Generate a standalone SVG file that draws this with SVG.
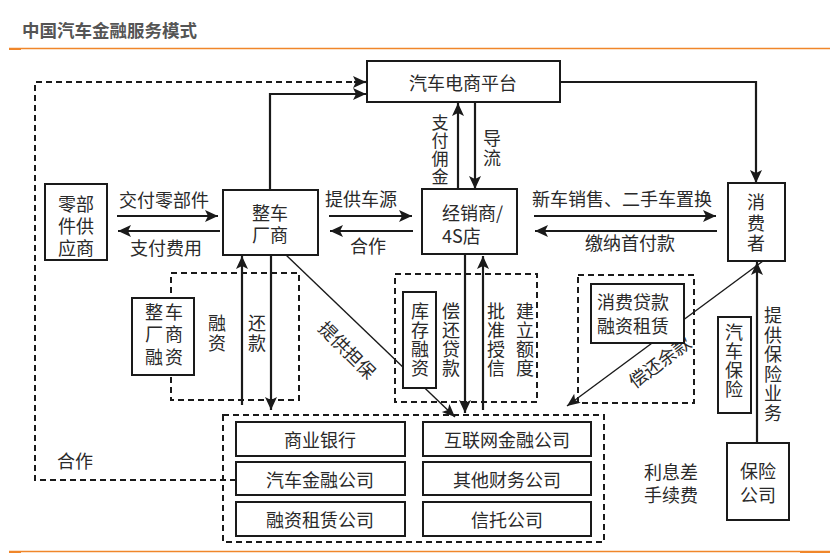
<svg xmlns="http://www.w3.org/2000/svg" width="830" height="560" viewBox="0 0 830 560">
<defs>
<style>
text{font-family:"Noto Sans CJK SC","Noto Sans",sans-serif;font-size:18px;fill:#2a2a2a;dominant-baseline:central;}
.c{text-anchor:middle;}
.v{writing-mode:vertical-rl;text-anchor:middle;}
.box{fill:#fff;stroke:#1a1a1a;stroke-width:2;}
.dbox{fill:none;stroke:#1a1a1a;stroke-width:2;stroke-dasharray:6 4;}
.ln{fill:none;stroke:#1a1a1a;stroke-width:2.2;}
.dl{fill:none;stroke:#1a1a1a;stroke-width:2;stroke-dasharray:6 4;}
.dg{fill:none;stroke:#1a1a1a;stroke-width:1.4;}
</style>
<marker id="ah" markerUnits="userSpaceOnUse" markerWidth="14" markerHeight="12" refX="13" refY="6" orient="auto"><path d="M0,0 L13,6 L0,12 L3,6 z" fill="#1a1a1a"/></marker>
<marker id="ahs" markerUnits="userSpaceOnUse" markerWidth="14" markerHeight="12" refX="13" refY="5.5" orient="auto"><path d="M0,0 L13,5.5 L0,11 L3,5.5 z" fill="#1a1a1a"/></marker>
</defs>
<rect width="830" height="560" fill="#fff"/>
<g id="header">
<text x="22" y="29" style="font-size:17.5px;font-weight:bold;fill:#555">中国汽车金融服务模式</text>
<line x1="9" y1="48.5" x2="830" y2="48.5" stroke="#f0862a" stroke-width="1.3"/>
<rect x="9" y="48" width="12" height="2" fill="#f0862a"/>
<line x1="9" y1="551.5" x2="830" y2="551.5" stroke="#f0862a" stroke-width="1.3"/>
<rect x="9" y="551" width="12" height="2" fill="#f0862a"/>
<rect x="800" y="551" width="30" height="2" fill="#f0862a"/>
</g>
<g id="groups">
<rect class="dbox" x="171" y="273" width="128" height="127"/>
<rect class="dbox" x="395" y="274" width="142" height="128"/>
<rect class="dbox" x="578" y="275" width="116" height="128"/>
<rect class="dbox" x="223" y="415" width="381" height="127"/>
</g>
<g id="connectors">
<path class="dl" d="M236 480 H35 V82 H354"/>
<path class="ln" d="M354 82 H366" marker-end="url(#ah)"/>
<path class="ln" d="M270 190 V94 H366" marker-end="url(#ah)"/>
<path class="ln" d="M560 82 H756 V183" marker-end="url(#ah)"/>
<path class="ln" d="M458 189 V103" marker-end="url(#ah)"/>
<path class="ln" d="M475 103 V189" marker-end="url(#ah)"/>
<path class="ln" d="M117 216 H218" marker-end="url(#ah)"/>
<path class="ln" d="M220 231 H118" marker-end="url(#ah)"/>
<path class="ln" d="M329 216 H412" marker-end="url(#ah)"/>
<path class="ln" d="M413 231 H330" marker-end="url(#ah)"/>
<path class="ln" d="M534 216 H716" marker-end="url(#ah)"/>
<path class="ln" d="M717 231 H535" marker-end="url(#ah)"/>
<path class="ln" d="M242 405 V256" marker-end="url(#ah)"/>
<path class="ln" d="M271 255 V410" marker-end="url(#ah)"/>
<path class="dg" d="M286 255 L455 417" marker-end="url(#ahs)"/>
<path class="ln" d="M465 254 V413" marker-end="url(#ah)"/>
<path class="ln" d="M483 410 V256" marker-end="url(#ah)"/>
<path class="dg" d="M763 261 L567 406" marker-end="url(#ahs)"/>
<path class="ln" d="M757 443 V262" marker-end="url(#ah)"/>
</g>
<g id="labels">
<text x="164" y="199" class="c">交付零部件</text>
<text x="166" y="247" class="c">支付费用</text>
<text x="361" y="198" class="c">提供车源</text>
<text x="368" y="245" class="c">合作</text>
<text x="622" y="198" class="c">新车销售、二手车置换</text>
<text x="630" y="242" class="c">缴纳首付款</text>
<text class="v" x="440" y="150" style="font-size:17px;letter-spacing:1px">支付佣金</text>
<text class="v" x="492" y="149" style="letter-spacing:2px">导流</text>
<text class="v" x="217" y="334" style="letter-spacing:2px">融资</text>
<text class="v" x="257" y="334" style="letter-spacing:2px">还款</text>
<text class="c" transform="translate(348,349) rotate(45)" x="0" y="0">提供担保</text>
<text class="v" x="451" y="340" style="letter-spacing:1px">偿还贷款</text>
<text class="v" x="496" y="340" style="letter-spacing:1px">批准授信</text>
<text class="v" x="525" y="340" style="letter-spacing:1px">建立额度</text>
<text class="c" transform="translate(659,361) rotate(-37)" x="0" y="0">偿还余款</text>
<text class="v" x="773" y="365" style="letter-spacing:1.6px">提供保险业务</text>
<text x="75" y="460" class="c">合作</text>
<text x="671" y="471" class="c">利息差</text>
<text x="671" y="494" class="c">手续费</text>
</g>
<g id="n-platform"><rect class="box" x="367" y="61" width="193" height="41"/><text x="463" y="82" class="c">汽车电商平台</text></g>
<g id="n-parts"><rect class="box" x="45" y="184" width="62" height="76"/><text x="76" y="203" class="c">零部</text><text x="76" y="225" class="c">件供</text><text x="76" y="247" class="c">应商</text></g>
<g id="n-oem"><rect class="box" x="223" y="190" width="95" height="65"/><text x="270" y="212" class="c">整车</text><text x="270" y="234" class="c">厂商</text></g>
<g id="n-dealer"><rect class="box" x="422" y="189" width="95" height="65"/><text x="442" y="212">经销商/</text><text x="442" y="235">4S店</text></g>
<g id="n-consumer"><rect class="box" x="728" y="183" width="57" height="78"/><text class="v" x="756" y="224" style="letter-spacing:2.5px">消费者</text></g>
<g id="n-oemfin"><rect class="box" x="132" y="298" width="62" height="77"/><text x="165" y="311" class="c" style="letter-spacing:2px">整车</text><text x="165" y="333" class="c" style="letter-spacing:2px">厂商</text><text x="165" y="356" class="c" style="letter-spacing:2px">融资</text></g>
<g id="n-stock"><rect class="box" x="403" y="292" width="33" height="96"/><text class="v" x="420" y="340" style="letter-spacing:1px">库存融资</text></g>
<g id="n-consfin"><rect class="box" x="591" y="284" width="93" height="59"/><text x="597" y="301">消费贷款</text><text x="597" y="325">融资租赁</text></g>
<g id="n-carins"><rect class="box" x="718" y="317" width="33" height="96"/><text class="v" x="734" y="361" style="letter-spacing:1px">汽车保险</text></g>
<g id="n-insurer"><rect class="box" x="727" y="443" width="62" height="77"/><text x="758" y="470" class="c">保险</text><text x="758" y="494" class="c">公司</text></g>
<g id="n-bank"><rect class="box" x="236" y="422" width="169" height="34"/><text x="320" y="439" class="c">商业银行</text></g>
<g id="n-autofin"><rect class="box" x="236" y="462" width="169" height="33"/><text x="320" y="479" class="c">汽车金融公司</text></g>
<g id="n-lease"><rect class="box" x="236" y="502" width="169" height="34"/><text x="320" y="519" class="c">融资租赁公司</text></g>
<g id="n-internet"><rect class="box" x="423" y="422" width="168" height="34"/><text x="507" y="439" class="c">互联网金融公司</text></g>
<g id="n-otherfin"><rect class="box" x="423" y="462" width="168" height="33"/><text x="507" y="479" class="c">其他财务公司</text></g>
<g id="n-trust"><rect class="box" x="423" y="502" width="168" height="34"/><text x="507" y="519" class="c">信托公司</text></g>
</svg>
